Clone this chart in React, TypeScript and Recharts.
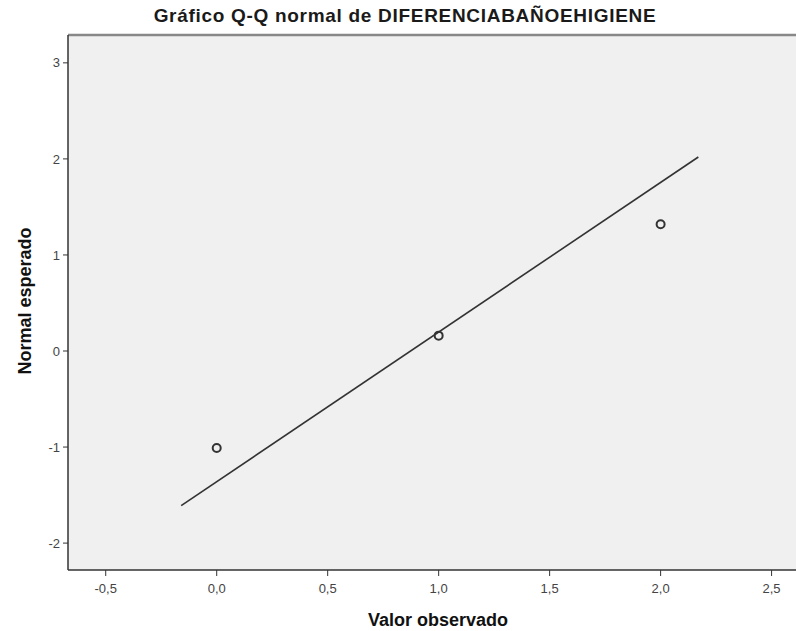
// Gráfico Q-Q normal (estilo SPSS)

import {
  ComposedChart,
  Line,
  ReferenceArea,
  ReferenceLine,
  Scatter,
  XAxis,
  YAxis,
} from "recharts";

// datos observados vs normal esperado
const observados = [0, 1, 2];
const esperados = [-1.01, 0.16, 1.32];

// recta de referencia (extremos)
const rectaX = [-0.16, 2.17];
const rectaY = [-1.61, 2.02];

const ticksX = [-0.5, 0, 0.5, 1, 1.5, 2, 2.5];
const ticksY = [-2, -1, 0, 1, 2, 3];

const dominioX: [number, number] = [-0.67, 2.61];
const dominioY: [number, number] = [-2.28, 3.29];

const puntos = observados.map((x, i) => ({ x, y: esperados[i] }));
const recta = rectaX.map((x, i) => ({ x, y: rectaY[i] }));

const fmt = (v: number) => v.toFixed(1).replace(".", ",");

const Circulo = (props: any) => {
  const { cx, cy } = props;
  return (
    <circle cx={cx} cy={cy} r={4} fill="none" stroke="#333" strokeWidth={2} />
  );
};

export default function App() {
  const font = "'Liberation Sans', Arial, sans-serif";
  return (
    <div style={{ position: "relative", width: 796, height: 631, background: "#fff", fontFamily: font }}>
      <style>{"body{margin:0}"}</style>
      {/* título */}
      <div
        style={{
          position: "absolute",
          top: 5,
          left: 0,
          width: 810,
          textAlign: "center",
          fontSize: 19,
          fontWeight: 600,
          letterSpacing: 0.7,
          color: "#1a1a1a",
        }}
      >
        Gráfico Q-Q normal de DIFERENCIABAÑOEHIGIENE
      </div>
      {/* eje Y */}
      <div
        style={{
          position: "absolute",
          left: 25,
          top: 301,
          transform: "translate(-50%, -50%) rotate(-90deg)",
          whiteSpace: "nowrap",
          fontSize: 18,
          fontWeight: "bold",
          color: "#111",
        }}
      >
        Normal esperado
      </div>
      {/* eje X */}
      <div
        style={{
          position: "absolute",
          left: 438,
          top: 620,
          transform: "translate(-50%, -50%)",
          whiteSpace: "nowrap",
          fontSize: 18,
          fontWeight: "bold",
          color: "#111",
        }}
      >
        Valor observado
      </div>
      <ComposedChart
        width={796}
        height={631}
        margin={{ top: 35, right: 0, left: 0, bottom: 0 }}
        style={{ position: "absolute", top: 0, left: 0 }}
      >
        <XAxis
          dataKey="x"
          type="number"
          domain={dominioX}
          ticks={ticksX}
          tickFormatter={fmt}
          height={61}
          axisLine={{ stroke: "#333", strokeWidth: 1.5 }}
          tickLine={{ stroke: "#333" }}
          tickSize={6}
          tickMargin={8}
          tick={{ fontSize: 13, fill: "#444", fontFamily: font }}
          allowDataOverflow
        />
        <YAxis
          type="number"
          domain={dominioY}
          ticks={ticksY}
          width={68}
          axisLine={{ stroke: "#333", strokeWidth: 1.5 }}
          tickLine={{ stroke: "#333" }}
          tickSize={5}
          tickMargin={3}
          tick={{ fontSize: 13, fill: "#444", fontFamily: font }}
          allowDataOverflow
        />
        <ReferenceArea
          x1={dominioX[0]}
          x2={dominioX[1]}
          y1={dominioY[0]}
          y2={dominioY[1]}
          fill="#f0f0f0"
          fillOpacity={1}
          stroke="none"
        />
        <ReferenceLine y={dominioY[1]} stroke="#888" strokeWidth={2.5} />
        <Line
          data={recta}
          dataKey="y"
          type="linear"
          stroke="#333"
          strokeWidth={1.6}
          dot={false}
          activeDot={false}
          isAnimationActive={false}
        />
        <Scatter
          data={puntos}
          dataKey="y"
          shape={<Circulo />}
          isAnimationActive={false}
        />
      </ComposedChart>
    </div>
  );
}
